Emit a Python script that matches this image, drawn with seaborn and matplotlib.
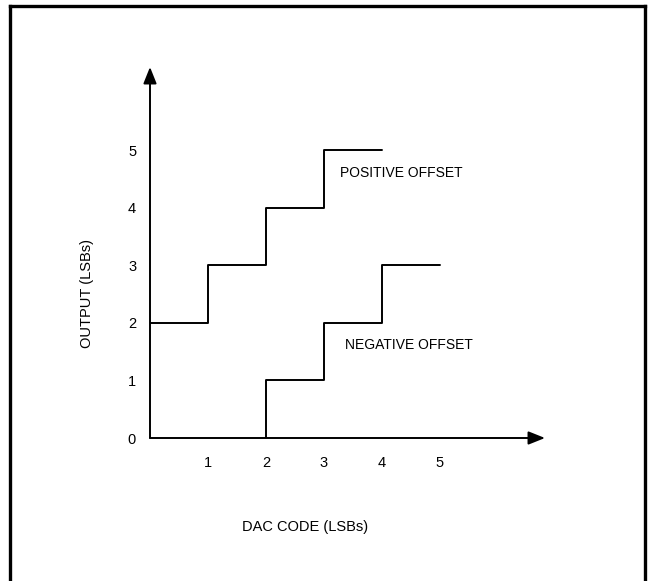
import matplotlib
matplotlib.use("Agg")
import matplotlib.pyplot as plt
from matplotlib.lines import Line2D
import pandas as pd
import seaborn as sns

sns.set_style("white")
plt.rcParams['font.family'] = ['Liberation Sans Narrow', 'Liberation Sans', 'DejaVu Sans']
plt.rcParams['text.color'] = 'black'
plt.rcParams['xtick.color'] = 'black'
plt.rcParams['ytick.color'] = 'black'
plt.rcParams['axes.labelcolor'] = 'black'

# transfer functions (DAC code -> output, in LSBs)
pos_code = [0, 1, 2, 3, 4]
pos_out = [2, 3, 4, 5, 5]
neg_code = [2, 2, 3, 4, 5]
neg_out = [0, 1, 2, 3, 3]

x_ticks = [1, 2, 3, 4, 5]
y_ticks = [0, 1, 2, 3, 4, 5]

pos_df = pd.DataFrame({"code": pos_code, "out": pos_out})
neg_df = pd.DataFrame({"code": neg_code, "out": neg_out})

W, H = 648, 581
fig = plt.figure(figsize=(W / 100, H / 100), dpi=100)
# axes origin sits at the arrow origin
x0, y0 = 150, 438
ax = fig.add_axes([x0 / W, (H - y0) / H, (545 - x0) / W, (y0 - 67) / H])
ax.set_xlim(0, (545 - x0) / 58)
ax.set_ylim(0, (y0 - 67) / 57.6)

for df in (pos_df, neg_df):
    sns.lineplot(data=df, x="code", y="out", ax=ax, color="black", lw=1.4,
                 drawstyle="steps-post", estimator=None, sort=False)

for s in ax.spines.values():
    s.set_visible(False)

# axis arrows
arrow = dict(arrowstyle="-|>,head_length=0.5,head_width=0.2", color="black",
             lw=1.4, mutation_scale=20, shrinkA=0, shrinkB=0)
ax.annotate("", xy=(0, 1), xytext=(0, 0), xycoords="axes fraction", arrowprops=arrow, annotation_clip=False)
ax.annotate("", xy=(1, 0), xytext=(0, 0), xycoords="axes fraction", arrowprops=arrow, annotation_clip=False)

ax.set_xticks(x_ticks)
ax.set_yticks(y_ticks)
ax.set_xticklabels([str(v) for v in x_ticks])
ax.set_yticklabels([str(v) for v in y_ticks])
ax.tick_params(axis="x", length=0, pad=13, labelsize=10.5)
ax.tick_params(axis="y", length=0, pad=10, labelsize=10.5)
ax.grid(False)

ax.set_xlabel("DAC CODE (LSBs)", fontsize=10.5)
ax.set_ylabel("OUTPUT (LSBs)", fontsize=10.5)
ax.xaxis.set_label_coords((305 - x0) / 395, -(520 - y0) / 371)
ax.yaxis.set_label_coords((94 - x0) / 395, (y0 - 294) / 371)

ax.text(3.28, 4.6, "POSITIVE OFFSET", fontsize=10, va="center", ha="left")
ax.text(3.36, 1.61, "NEGATIVE OFFSET", fontsize=10, va="center", ha="left")

# outer frame (bottom edge falls outside the picture)
for xs, ys in [([10, 10], [0, H - 6]), ([645, 645], [0, H - 6]), ([10, 645], [H - 6, H - 6])]:
    fig.add_artist(Line2D([v / W for v in xs], [v / H for v in ys], color="black", lw=2.4,
                          solid_capstyle="projecting"))

fig.savefig("out.png", dpi=100)
